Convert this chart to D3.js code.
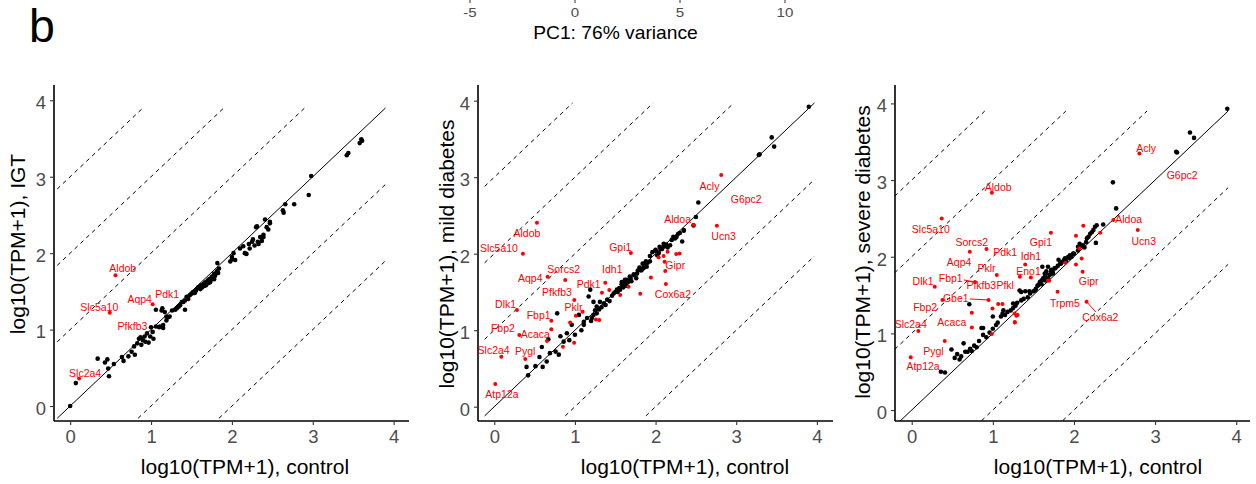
<!DOCTYPE html>
<html>
<head>
<meta charset="utf-8">
<script src="https://cdn.jsdelivr.net/npm/d3@7"></script>
<style>
  body { margin: 0; background: #fff; }
  text { font-family: "Liberation Sans", Arial, sans-serif; }
</style>
</head>
<body>
<div id="fig"></div>
<script>
// ---- data (log10(TPM+1)); x = control, y = condition ----
const pcaTicks = [-5, 0, 5, 10];
const axisTicks = [0, 1, 2, 3, 4];
const diagOffsets = [-2, -1, 0, 1, 2, 3];

const igtBlack = [
  [0,0],[0.07,0.30],[0.34,0.62],[0.43,0.57],[0.46,0.61],[0.47,0.49],[0.48,0.39],[0.54,0.55],[0.64,0.64],[0.66,0.59],
  [0.72,0.65],[0.76,0.71],[0.79,0.78],[0.80,0.67],[0.83,0.82],[0.85,0.88],[0.87,0.90],[0.88,0.80],[0.90,0.86],[0.92,0.91],
  [0.93,0.84],[0.95,0.95],[0.97,0.83],[0.99,0.91],[1.00,1.03],[1.02,0.97],[1.03,0.88],[1.06,1.04],[1.06,1.26],[1.10,1.03],
  [1.11,1.04],[1.13,1.25],[1.14,1.28],[1.15,1.06],[1.15,1.02],[1.17,1.23],[1.19,1.12],[1.19,1.17],[1.21,1.16],[1.23,1.17],
  [1.26,1.25],[1.30,1.26],[1.32,1.28],[1.34,1.30],[1.36,1.32],[1.38,1.36],[1.40,1.36],[1.42,1.26],[1.42,1.38],[1.44,1.43],
  [1.46,1.40],[1.48,1.45],[1.50,1.47],[1.52,1.49],[1.54,1.48],[1.55,1.50],[1.56,1.52],[1.58,1.55],[1.60,1.56],[1.61,1.53],
  [1.62,1.58],[1.63,1.55],[1.65,1.60],[1.66,1.57],[1.67,1.62],[1.68,1.58],[1.70,1.64],[1.71,1.61],[1.72,1.66],[1.73,1.62],
  [1.74,1.65],[1.75,1.69],[1.77,1.70],[1.78,1.66],[1.78,1.73],[1.79,1.70],[1.80,1.73],[1.81,1.75],[1.82,1.77],[1.83,1.74],
  [1.84,1.80],[1.82,1.87],[1.98,1.89],[2.00,1.95],[2.00,1.92],[2.02,2.00],[2.04,1.91],[2.10,2.06],[2.14,2.09],[2.16,2.00],
  [2.18,1.99],[2.21,2.12],[2.22,2.06],[2.25,2.15],[2.26,2.18],[2.28,2.10],[2.30,2.34],[2.32,2.15],[2.33,2.12],[2.35,2.21],
  [2.37,2.16],[2.39,2.21],[2.39,2.24],[2.31,2.35],[2.41,2.44],[2.43,2.34],[2.45,2.31],[2.47,2.39],[2.47,2.41],[2.63,2.56],
  [2.64,2.53],[2.66,2.64],[2.77,2.64],[2.95,2.76],[2.98,3.01],[3.42,3.28],[3.44,3.31],[3.58,3.44],[3.60,3.49],[3.61,3.47]
];
// [gene, x, y, labelX, labelY, connector]
const igtGenes = [
  ["Slc2a4", 0.11, 0.36, 0.185, 0.43],
  ["Slc5a10", 0.49, 1.22, 0.36, 1.29],
  ["Aldob", 0.56, 1.71, 0.65, 1.80],
  ["Aqp4", 1.02, 1.33, 0.86, 1.40],
  ["Pdk1", null, null, 1.20, 1.46],
  ["Pfkfb3", null, null, 0.77, 1.05]
];
const igtExtra = [];

const mildBlack = [
  [0.40,0.52],[0.42,0.41],[0.51,0.53],[0.56,0.65],[0.59,0.78],[0.60,0.52],[0.65,0.59],[0.67,0.88],[0.69,0.70],[0.76,0.72],
  [0.78,1.22],[0.80,0.68],[0.82,0.92],[0.86,0.85],[0.90,0.96],[0.93,0.87],[0.96,1.07],[1.00,0.94],[1.05,1.20],[1.08,1.00],
  [1.11,1.11],[1.11,1.07],[1.15,1.16],[1.17,1.44],[1.19,1.53],[1.20,1.12],[1.21,1.16],[1.23,1.20],[1.23,1.37],[1.25,1.26],
  [1.27,1.31],[1.27,1.22],[1.30,1.27],[1.31,1.37],[1.33,1.30],[1.36,1.35],[1.38,1.33],[1.40,1.40],[1.43,1.38],[1.46,1.45],
  [1.48,1.48],[1.50,1.50],[1.52,1.53],[1.53,1.50],[1.55,1.55],[1.56,1.53],[1.58,1.60],[1.58,1.63],[1.60,1.56],[1.60,1.57],
  [1.62,1.66],[1.62,1.61],[1.64,1.58],[1.64,1.66],[1.66,1.63],[1.68,1.70],[1.69,1.68],[1.70,1.64],[1.73,1.73],[1.73,1.72],
  [1.76,1.68],[1.77,1.74],[1.78,1.78],[1.80,1.82],[1.82,1.78],[1.83,1.79],[1.84,1.87],[1.85,1.81],[1.86,1.84],[1.87,1.87],
  [1.88,1.90],[1.89,1.83],[1.90,1.88],[1.93,1.97],[1.93,1.90],[1.96,2.02],[2.00,2.04],[2.00,2.05],[2.02,1.98],[2.04,2.01],
  [2.05,2.09],[2.06,2.06],[2.08,2.06],[2.10,2.09],[2.10,2.13],[2.12,2.10],[2.13,2.12],[2.15,2.08],[2.18,2.11],[2.20,2.18],
  [2.22,2.22],[2.24,2.20],[2.25,2.21],[2.26,2.22],[2.28,2.26],[2.30,2.27],[2.33,2.16],[2.35,2.30],[2.35,2.31],[2.47,2.37],
  [2.50,2.48],[2.53,2.67],[3.28,3.29],[3.29,3.30],[3.44,3.52],[3.47,3.40],[3.90,3.92]
];
const mildGenes = [
  ["Atp12a", 0.012, 0.296, 0.095, 0.161],
  ["Slc2a4", 0.087, 0.654, -0.008, 0.732],
  ["Pygl", 0.384, 0.623, 0.384, 0.719],
  ["Fbp2", 0.31, 0.937, 0.107, 1.024],
  ["Acaca", 0.707, 1.011, 0.508, 0.95],
  ["Fbp1", 0.707, 1.124, 0.55, 1.198],
  ["Dlk1", 0.281, 1.264, 0.14, 1.342],
  ["Pklr", 1.095, 1.242, 0.983, 1.298],
  ["Pfkfb3", 0.992, 1.394, 0.777, 1.49],
  ["Aqp4", 0.661, 1.699, 0.446, 1.678],
  ["Sorcs2", 0.88, 1.656, 0.86, 1.795],
  ["Pdk1", 1.376, 1.621, 1.17, 1.60],
  ["Idh1", 1.426, 1.525, 1.463, 1.795],
  ["Gpi1", 1.694, 2.009, 1.562, 2.083],
  ["Aldob", 0.529, 2.405, 0.405, 2.266],
  ["Slc5a10", 0.355, 2.0, 0.058, 2.07],
  ["Aldoa", 2.471, 2.375, 2.273, 2.449],
  ["Acly", 2.814, 3.028, 2.669, 2.884],
  ["G6pc2", null, null, 3.124, 2.71],
  ["Ucn3", 2.76, 2.366, 2.843, 2.231],
  ["Gipr", 2.12, 1.773, 2.244, 1.852],
  ["Cox6a2", 2.128, 1.603, 2.215, 1.473]
];
const mildExtra = [
  [0.653,0.858],[0.851,0.784],[0.99,0.837],[0.94,1.102],[1.012,1.19],[1.26,1.14],[1.302,1.133],[1.335,1.49],[1.562,1.46],
  [1.665,1.569],[1.81,1.477],[1.942,1.69],[2.037,1.952],[2.1,1.97],[2.149,2.026],[2.112,1.895],[2.256,1.996],[2.298,2.004]
];

const severeBlack = [
  [0.36,0.50],[0.41,0.49],[0.49,0.79],[0.53,0.68],[0.56,0.73],[0.59,0.66],[0.61,0.70],[0.64,0.87],[0.66,0.76],[0.69,0.76],
  [0.71,1.38],[0.72,0.80],[0.74,0.77],[0.77,0.84],[0.80,0.82],[0.83,0.90],[0.86,1.07],[0.88,0.98],[0.88,1.07],[0.92,0.95],
  [0.96,1.01],[1.00,1.06],[1.00,1.22],[1.04,1.11],[1.06,1.14],[1.10,1.22],[1.12,1.26],[1.13,1.30],[1.15,1.24],[1.18,1.28],
  [1.22,1.30],[1.25,1.33],[1.25,1.39],[1.28,1.36],[1.30,1.40],[1.33,1.56],[1.35,1.43],[1.35,1.54],[1.38,1.45],[1.40,1.55],
  [1.43,1.47],[1.45,1.55],[1.46,1.52],[1.50,1.55],[1.52,1.56],[1.53,1.58],[1.55,1.62],[1.56,1.63],[1.58,1.66],[1.58,1.67],
  [1.60,1.64],[1.60,1.69],[1.61,1.87],[1.62,1.70],[1.62,1.72],[1.64,1.78],[1.64,1.74],[1.65,1.69],[1.66,1.81],[1.66,1.78],
  [1.68,1.72],[1.68,1.87],[1.70,1.76],[1.72,1.80],[1.72,1.83],[1.74,1.78],[1.74,1.80],[1.76,1.85],[1.77,1.85],[1.80,1.88],
  [1.81,1.96],[1.83,1.91],[1.84,1.91],[1.85,1.93],[1.88,1.96],[1.89,1.98],[1.90,1.94],[1.93,2.00],[1.94,1.98],[1.95,2.02],
  [1.97,2.00],[1.99,2.04],[2.00,2.04],[2.05,2.08],[2.05,2.13],[2.07,2.17],[2.10,2.14],[2.11,2.15],[2.13,2.12],[2.15,2.19],
  [2.16,2.24],[2.18,2.26],[2.20,2.30],[2.22,2.32],[2.24,2.35],[2.26,2.39],[2.27,2.18],[2.28,2.41],[2.36,2.42],[2.48,2.97],
  [2.52,2.63],[3.26,3.37],[3.27,3.36],[3.43,3.62],[3.48,3.55],[3.89,3.93]
];
const severeGenes = [
  ["Atp12a", -0.012, 0.687, 0.14, 0.574],
  ["Pygl", 0.407, 0.90, 0.267, 0.761],
  ["Slc2a4", 0.082, 1.03, -0.012, 1.117],
  ["Acaca", 0.741, 1.078, 0.494, 1.143],
  ["Fbp2", 0.379, 1.435, 0.165, 1.335],
  ["Gbe1", 0.947, 1.435, 0.543, 1.457, true],
  ["Dlk1", 0.284, 1.609, 0.14, 1.683],
  ["Fbp1", 0.78, 1.67, 0.481, 1.726, true],
  ["Pfkfb3", null, null, 0.858, 1.63],
  ["Pfkl", null, null, 1.152, 1.63],
  ["Pklr", 1.049, 1.761, 0.922, 1.848],
  ["Aqp4", 0.716, 2.064, 0.584, 1.926],
  ["Sorcs2", 0.922, 2.10, 0.741, 2.187],
  ["Pdk1", null, null, 1.152, 2.057],
  ["Idh1", 1.399, 1.90, 1.469, 2.013],
  ["Eno1", 1.333, 1.739, 1.44, 1.817],
  ["Gpi1", 1.716, 2.313, 1.593, 2.187],
  ["Aldob", 0.988, 2.835, 1.066, 2.904],
  ["Slc5a10", 0.37, 2.50, 0.235, 2.361],
  ["Acly", 2.807, 3.348, 2.889, 3.413],
  ["G6pc2", null, null, 3.333, 3.065],
  ["Aldoa", 2.486, 2.478, 2.675, 2.487],
  ["Ucn3", 2.786, 2.348, 2.86, 2.204],
  ["Gipr", 2.107, 1.804, 2.181, 1.674],
  ["Trpm5", 1.798, 1.543, 1.889, 1.391],
  ["Cox6a2", 2.156, 1.413, 2.325, 1.209, true]
];
const severeExtra = [
  [2.115,2.404],[2.025,2.274],[2.325,2.313],[2.025,1.90],[2.095,1.978],[1.893,1.922],[2.066,2.109],[1.695,1.687],
  [1.469,1.73],[0.741,1.27],[0.996,1.326],[1.066,1.383],[1.119,1.383],[1.305,1.239],[1.272,1.143],[0.988,0.991],
  [1.27,1.26],[1.29,1.23],[1.27,1.15],[1.68,1.69]
];

// ---- layout ----
const W = 1256, H = 484;
const plotTop = 85, plotBottom = 421;

const panels = [
  { ylab: "log10(TPM+1), IGT", left: 54, right: 409, xDom: [-0.2, 4.19], yDom: [-0.196, 4.2],
    lineRange: [-0.16, 3.9], black: igtBlack, genes: igtGenes, extra: igtExtra,
    ylabX: 25, ylabY: 244, xlabX: 245 },
  { ylab: "log10(TPM+1), mild diabetes", left: 478, right: 833, xDom: [-0.202, 4.2], yDom: [-0.187, 4.205],
    lineRange: [-0.12, 3.97], black: mildBlack, genes: mildGenes, extra: mildExtra,
    ylabX: 454, ylabY: 254, xlabX: 685 },
  { ylab: "log10(TPM+1), severe diabetes", left: 895, right: 1250, xDom: [-0.206, 4.17], yDom: [-0.143, 4.24],
    lineRange: [-0.21, 3.9], black: severeBlack, genes: severeGenes, extra: severeExtra,
    ylabX: 870, ylabY: 252, xlabX: 1098 }
];

const svg = d3.select("#fig").append("svg")
  .attr("width", W).attr("height", H)
  .style("display", "block");

// panel letter
svg.append("text")
  .attr("x", 29).attr("y", 42.3)
  .attr("font-size", 46.5)
  .attr("fill", "#000")
  .text("b");

// bottom strip of the PCA plot above
const pcaX = d3.scaleLinear().domain([-5, 10]).range([470, 785]);
pcaTicks.forEach(t => {
  svg.append("line")
    .attr("x1", pcaX(t)).attr("x2", pcaX(t))
    .attr("y1", 0).attr("y2", 3)
    .attr("stroke", "#333").attr("stroke-width", 1);
  svg.append("text")
    .attr("transform", `translate(${pcaX(t)},16.5) scale(1.12,1)`)
    .attr("text-anchor", "middle")
    .attr("font-size", 13.5)
    .attr("fill", "#4d4d4d")
    .text(t);
});
svg.append("text")
  .attr("transform", "translate(615.5,39) scale(1.1,1)")
  .attr("text-anchor", "middle")
  .attr("font-size", 17.5)
  .attr("fill", "#000")
  .text("PC1: 76% variance");

panels.forEach((p, i) => {
  const x = d3.scaleLinear().domain(p.xDom).range([p.left, p.right]);
  const y = d3.scaleLinear().domain(p.yDom).range([plotBottom, plotTop]);
  const g = svg.append("g");

  const clipId = "clip" + i;
  svg.append("clipPath").attr("id", clipId)
    .append("rect")
    .attr("x", p.left).attr("y", plotTop)
    .attr("width", p.right - p.left).attr("height", plotBottom - plotTop);

  // diagonal reference lines
  const lo = p.lineRange[0], hi = p.lineRange[1];
  g.append("g").attr("clip-path", `url(#${clipId})`)
    .selectAll("line")
    .data(diagOffsets)
    .join("line")
    .attr("x1", k => x(Math.max(lo, lo - k)))
    .attr("y1", k => y(Math.max(lo, lo - k) + k))
    .attr("x2", k => x(Math.min(hi, hi - k)))
    .attr("y2", k => y(Math.min(hi, hi - k) + k))
    .attr("stroke", "#000")
    .attr("stroke-width", 1)
    .attr("stroke-dasharray", k => k === 0 ? null : "4,4");

  // axes
  const xAxis = g.append("g")
    .attr("transform", `translate(0,${plotBottom})`)
    .call(d3.axisBottom(x).tickValues(axisTicks).tickSize(4).tickPadding(5).tickFormat(d3.format("d")));
  const yAxis = g.append("g")
    .attr("transform", `translate(${p.left},0)`)
    .call(d3.axisLeft(y).tickValues(axisTicks).tickSize(4).tickPadding(4).tickFormat(d3.format("d")));
  [xAxis, yAxis].forEach(a => {
    a.select(".domain").attr("stroke", "#000").attr("stroke-width", 1.6);
    a.selectAll(".tick line").attr("stroke", "#333").attr("stroke-width", 1.1);
    a.selectAll(".tick text")
      .attr("fill", "#4d4d4d")
      .attr("font-size", 18.5)
      .attr("font-family", "'Liberation Sans', Arial, sans-serif");
  });
  xAxis.select(".domain").attr("d", `M${p.left},0H${p.right}`);
  yAxis.select(".domain").attr("d", `M0,${plotTop}V${plotBottom}`);
  yAxis.selectAll(".tick text").attr("dy", "0.45em");

  // axis titles
  g.append("text")
    .attr("x", p.xlabX).attr("y", 474)
    .attr("text-anchor", "middle")
    .attr("font-size", 21)
    .attr("fill", "#000")
    .text("log10(TPM+1), control");
  g.append("text")
    .attr("transform", `translate(${p.ylabX},${p.ylabY}) rotate(-90)`)
    .attr("text-anchor", "middle")
    .attr("font-size", 21)
    .attr("fill", "#000")
    .text(p.ylab);

  // points
  g.append("g").selectAll("circle")
    .data(p.black)
    .join("circle")
    .attr("cx", d => x(d[0]))
    .attr("cy", d => y(d[1]))
    .attr("r", 2.3)
    .attr("fill", "#000");

  const redPts = p.extra.concat(p.genes.filter(d => d[1] !== null).map(d => [d[1], d[2]]));
  g.append("g").selectAll("circle")
    .data(redPts)
    .join("circle")
    .attr("cx", d => x(d[0]))
    .attr("cy", d => y(d[1]))
    .attr("r", 2)
    .attr("fill", "#ff0000");

  // gene labels
  const labels = g.append("g").selectAll("text")
    .data(p.genes)
    .join("text")
    .attr("x", d => x(d[3]))
    .attr("y", d => y(d[4]))
    .attr("dy", "0.36em")
    .attr("text-anchor", "middle")
    .attr("font-size", 10.5)
    .attr("fill", "#ff0000")
    .text(d => d[0]);

  // connector segments from label box to point
  labels.each(function (d) {
    if (!d[5]) return;
    const bb = this.getBBox();
    const cx = bb.x + bb.width / 2, cy = bb.y + bb.height / 2;
    const px = x(d[1]), py = y(d[2]);
    const dx = px - cx, dy = py - cy;
    const tx = dx !== 0 ? Math.abs((bb.width / 2 + 1) / dx) : Infinity;
    const ty = dy !== 0 ? Math.abs((bb.height / 2 - 1) / dy) : Infinity;
    const t = Math.min(tx, ty);
    g.append("line")
      .attr("x1", cx + dx * t).attr("y1", cy + dy * t)
      .attr("x2", px).attr("y2", py)
      .attr("stroke", "#ff0000")
      .attr("stroke-width", 1);
  });
});
</script>
</body>
</html>
